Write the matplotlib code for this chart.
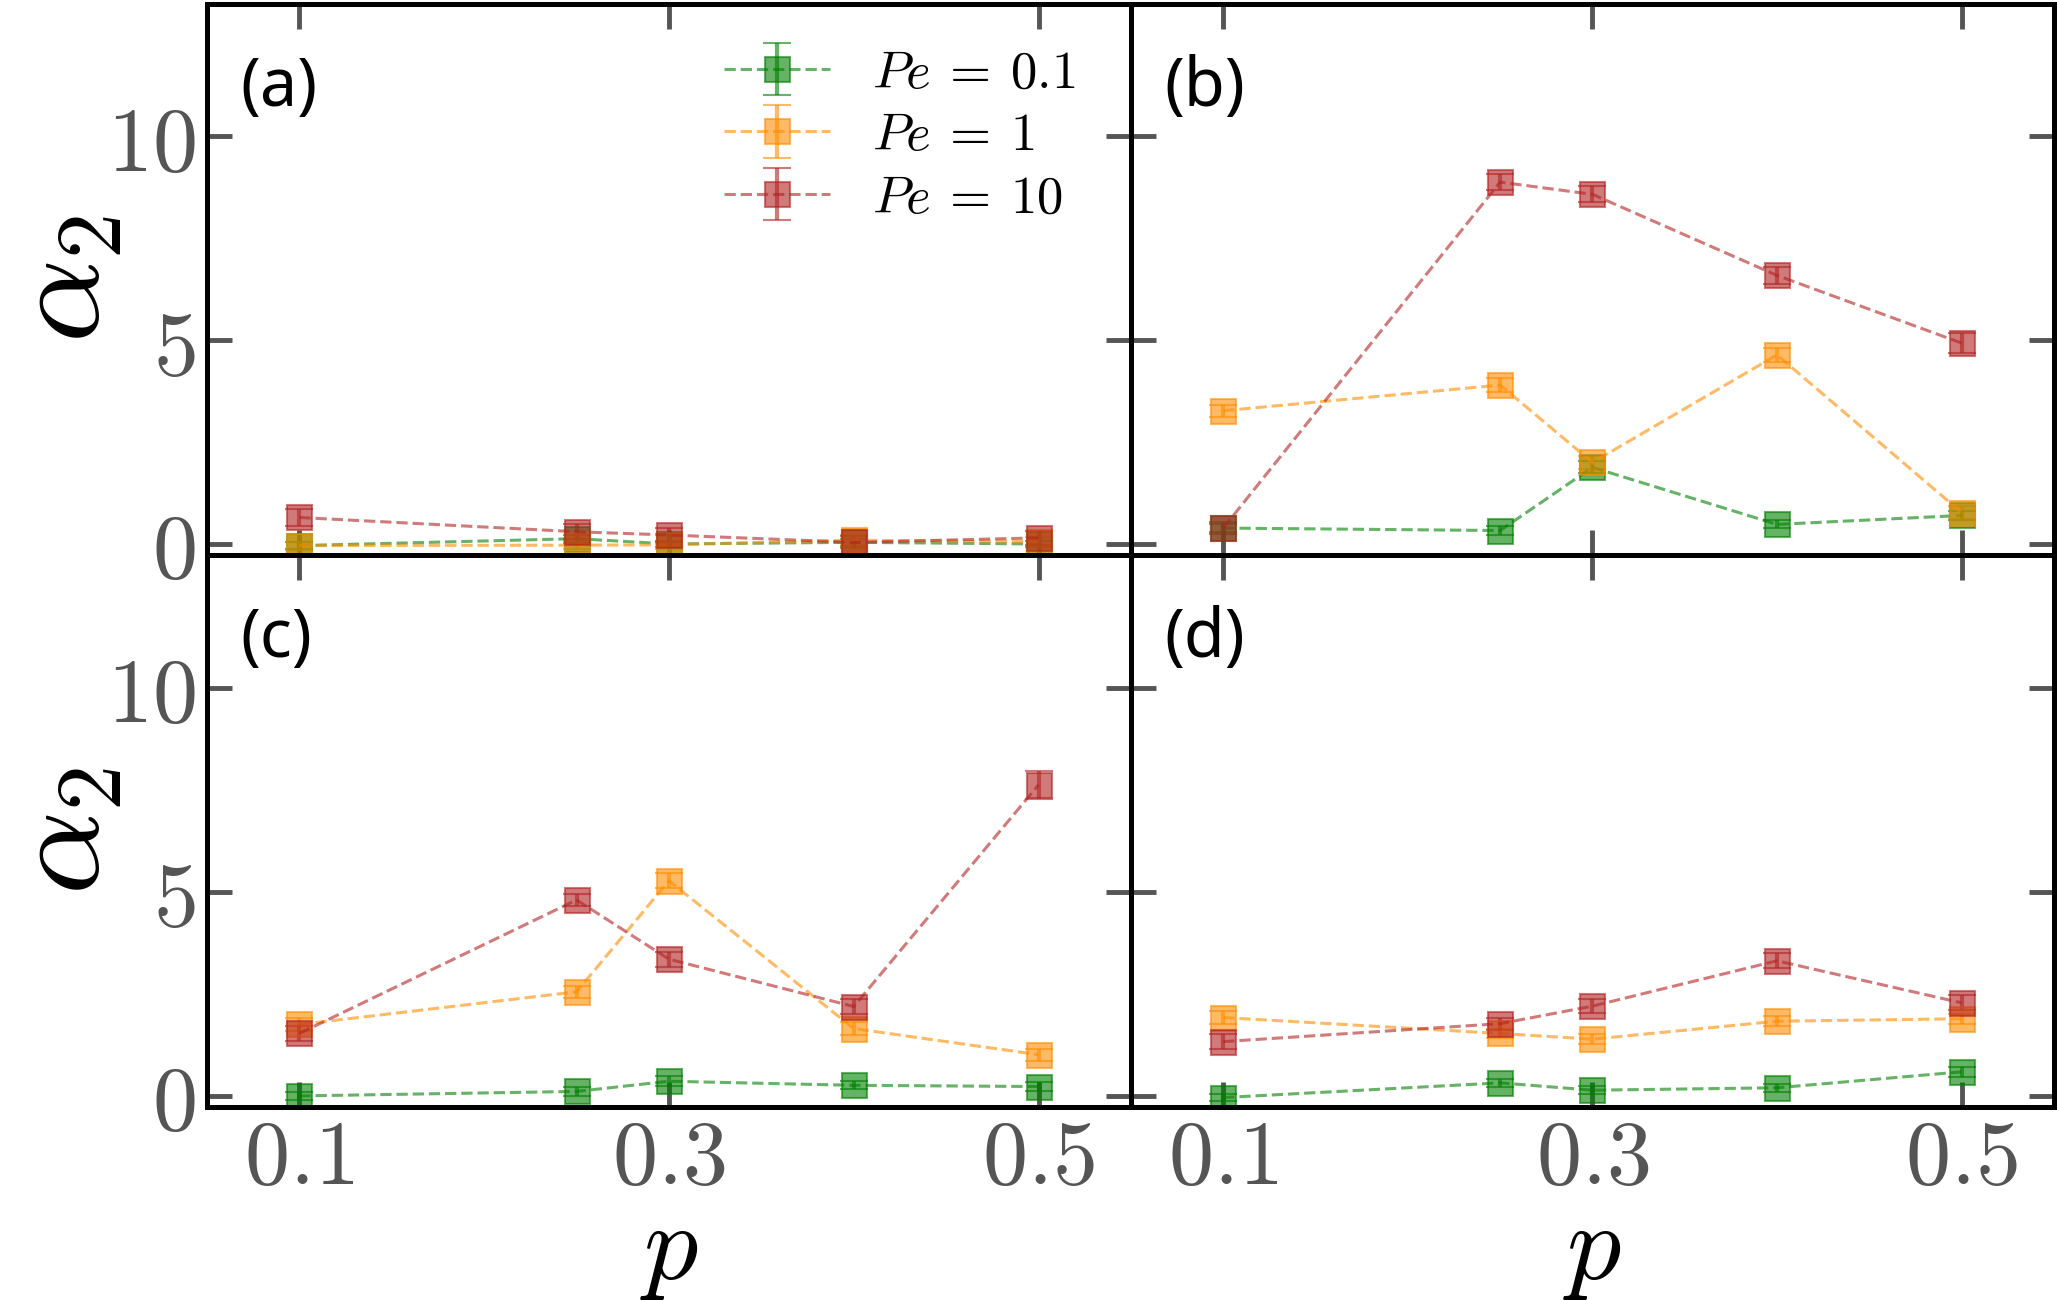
import numpy as np
import matplotlib
matplotlib.use('Agg')
import matplotlib.pyplot as plt
from matplotlib.container import ErrorbarContainer
from matplotlib.legend_handler import HandlerErrorbar

plt.rcParams['mathtext.fontset'] = 'cm'

p = [0.1, 0.25, 0.3, 0.4, 0.5]
pe_labels = [r'$Pe\:=\:0.1$', r'$Pe\:=\:1$', r'$Pe\:=\:10$']
colors = ['green', 'darkorange', 'firebrick']
panel_tags = ['(a)', '(b)', '(c)', '(d)']

# alpha_2 values per panel, series order: Pe=0.1, Pe=1, Pe=10
a_vals = [[-0.04, 0.13, 0.00, 0.04, 0.00],
          [-0.04, -0.03, -0.02, 0.09, 0.06],
          [0.65, 0.30, 0.22, 0.04, 0.15]]
b_vals = [[0.39, 0.33, 1.88, 0.48, 0.70],
          [3.27, 3.90, 2.00, 4.64, 0.77],
          [0.39, 8.88, 8.58, 6.59, 4.93]]
c_vals = [[0.00, 0.11, 0.36, 0.26, 0.23],
          [1.75, 2.55, 5.27, 1.65, 1.01],
          [1.53, 4.80, 3.35, 2.19, 7.62]]
d_vals = [[-0.04, 0.32, 0.14, 0.20, 0.59],
          [1.92, 1.53, 1.39, 1.83, 1.89],
          [1.33, 1.77, 2.20, 3.31, 2.28]]

a_err = [[0.08, 0.10, 0.08, 0.08, 0.08],
         [0.10, 0.10, 0.10, 0.12, 0.10],
         [0.20, 0.18, 0.18, 0.15, 0.18]]
b_err = [[0.10, 0.10, 0.15, 0.10, 0.12],
         [0.15, 0.18, 0.15, 0.18, 0.15],
         [0.15, 0.20, 0.20, 0.20, 0.25]]
c_err = [[0.10, 0.10, 0.12, 0.10, 0.10],
         [0.15, 0.15, 0.18, 0.15, 0.15],
         [0.18, 0.15, 0.18, 0.18, 0.35]]
d_err = [[0.08, 0.10, 0.10, 0.10, 0.12],
         [0.15, 0.12, 0.12, 0.12, 0.12],
         [0.18, 0.15, 0.18, 0.18, 0.18]]

all_vals = [a_vals, b_vals, c_vals, d_vals]
all_err = [a_err, b_err, c_err, d_err]

fig = plt.figure(figsize=(20.57, 13.0), dpi=100)
x0, xm, x1 = 0.1006, 0.5498, 0.9985
y0, ym, y1 = 0.1485, 0.5731, 0.9969
rects = [[x0, ym, xm - x0, y1 - ym], [xm, ym, x1 - xm, y1 - ym],
         [x0, y0, xm - x0, ym - y0], [xm, y0, x1 - xm, ym - y0]]

tick_gray = '#555555'
for k in range(4):
    ax = fig.add_axes(rects[k])
    for i in range(3):
        ax.errorbar(p, all_vals[k][i], yerr=all_err[k][i], fmt='s--', color=colors[i],
                    alpha=0.6, ms=18, mew=1.5, lw=2.2, elinewidth=3, capsize=10,
                    capthick=3, label=pe_labels[i])
    ax.set_xlim(0.05, 0.55)
    ax.set_ylim(-0.27, 13.25)
    ax.set_xticks([0.1, 0.3, 0.5])
    ax.set_yticks([0, 5, 10])
    ax.tick_params(direction='in', top=True, right=True, length=18, width=3.5,
                   color=tick_gray, labelcolor=tick_gray, labelsize=65)
    ax.tick_params(axis='x', pad=6)
    ax.tick_params(axis='y', pad=8)
    for s in ax.spines.values():
        s.set_linewidth(3.6)
    if k in (0, 2):
        ax.set_yticklabels(['$0$', '$5$', '$10$'])
        ax.set_ylabel(r'$\alpha_2$', fontsize=95, labelpad=-14)
    else:
        ax.set_yticklabels([])
    if k in (2, 3):
        ax.set_xticklabels(['$0.1$', '$0.3$', '$0.5$'])
        ax.set_xlabel('$p$', fontsize=78, labelpad=-5)
    else:
        ax.set_xticklabels([])
    ax.text(0.036, 0.91, panel_tags[k], transform=ax.transAxes, fontsize=48,
            family=['Noto Sans', 'DejaVu Sans'], fontweight='medium', va='top', ha='left')
    if k == 0:
        ax.legend(loc='upper right', bbox_to_anchor=(0.983, 0.995), frameon=False,
                  fontsize=38, handlelength=2.0, handletextpad=0.8, labelspacing=0.2,
                  borderaxespad=0.35,
                  handler_map={ErrorbarContainer: HandlerErrorbar(yerr_size=0.5)})

fig.savefig('out.png', dpi=100)
